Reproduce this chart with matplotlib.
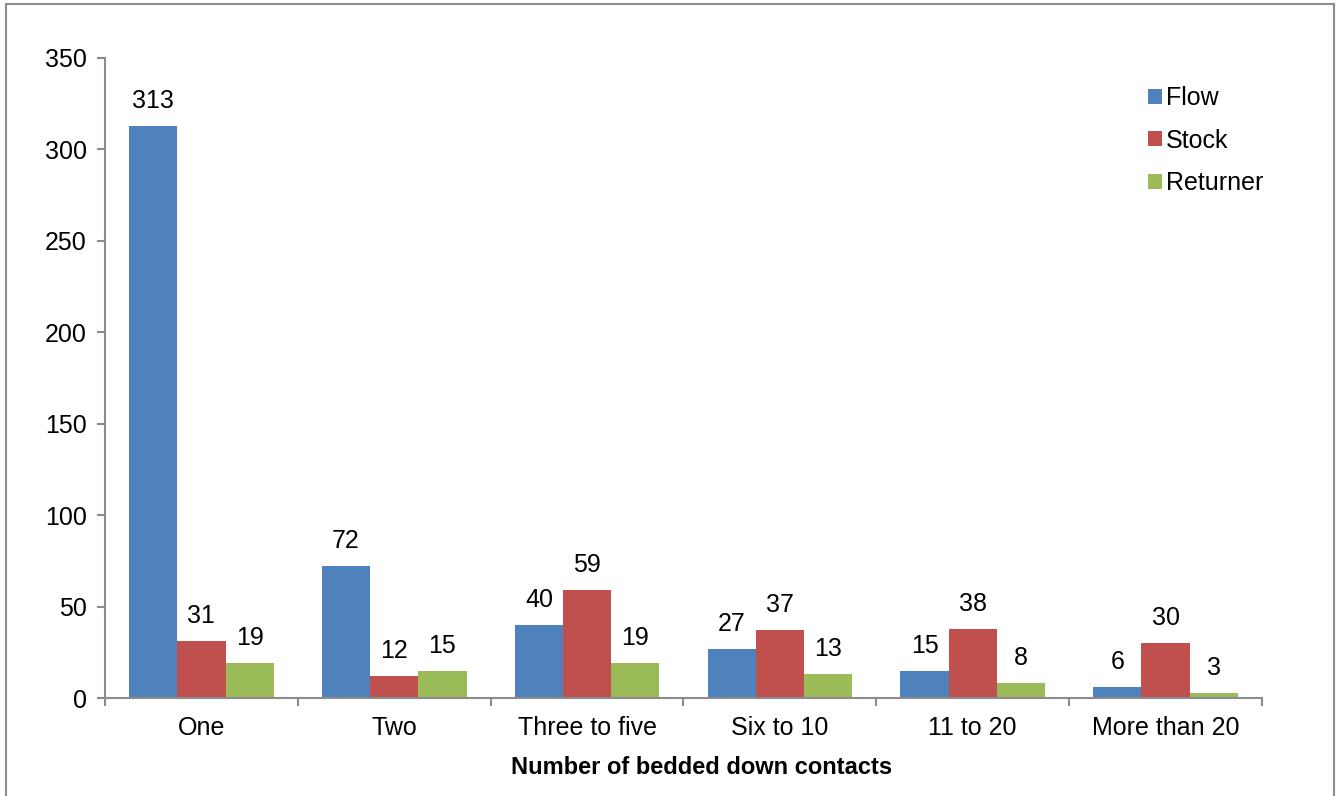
import matplotlib.pyplot as plt
import numpy as np

plt.rcParams['font.family'] = ['Liberation Sans', 'DejaVu Sans']

categories = ['One', 'Two', 'Three to five', 'Six to 10', '11 to 20', 'More than 20']
flow = [313, 72, 40, 27, 15, 6]
stock = [31, 12, 59, 37, 38, 30]
returner = [19, 15, 19, 13, 8, 3]

series = [('Flow', flow, '#4F81BD'), ('Stock', stock, '#C0504D'), ('Returner', returner, '#9BBB59')]

W, H = 1338, 796
FS = 18
fig = plt.figure(figsize=(W / 100, H / 100), dpi=100)
ax = fig.add_axes([105 / W, 1 - 698 / H, (1262 - 105) / W, (698 - 58) / H])

# border around the chart area
fig.patches.append(plt.Rectangle((6 / W, -0.01), (1334 - 6) / W, 1.01 - 4 / H, transform=fig.transFigure,
                                 fill=False, edgecolor='#8c8c8c', linewidth=1.5))

x = np.arange(len(categories))
bw = 0.25
for i, (name, vals, col) in enumerate(series):
    pos = x + (i - 1) * bw
    bars = ax.bar(pos, vals, bw, color=col, label=name)
    for b, v in zip(bars, vals):
        ax.annotate(str(v), (b.get_x() + b.get_width() / 2, v), xytext=(0, 18),
                    textcoords='offset points', ha='center', va='center', fontsize=FS)

ax.set_xlim(-0.5, len(categories) - 0.5)
ax.set_ylim(0, 350)
ax.set_yticks(range(0, 351, 50))
ax.set_xticks(x)
ax.set_xticklabels(categories)
ax.set_xticks(np.arange(-0.5, len(categories)), minor=True)
ax.tick_params(axis='x', which='major', length=0, pad=13, labelsize=FS)
ax.tick_params(axis='x', which='minor', length=6, width=1.5, color='#8c8c8c')
ax.tick_params(axis='y', length=6, width=1.5, color='#8c8c8c', pad=7, labelsize=FS)
for s in ['top', 'right']:
    ax.spines[s].set_visible(False)
for s in ['left', 'bottom']:
    ax.spines[s].set_color('#8c8c8c')
    ax.spines[s].set_linewidth(1.5)

fig.text(702 / W, 1 - 767 / H, 'Number of bedded down contacts', ha='center', va='center',
         fontsize=17, fontweight='bold')

ax.legend(loc='upper left', bbox_to_anchor=((1138 - 105) / (1262 - 105), 1 - (76 - 58) / (698 - 58)),
          frameon=False, fontsize=FS, handlelength=0.55, handleheight=0.55, handletextpad=0.15,
          labelspacing=0.75, borderaxespad=0)

plt.savefig('out.png', dpi=100)
